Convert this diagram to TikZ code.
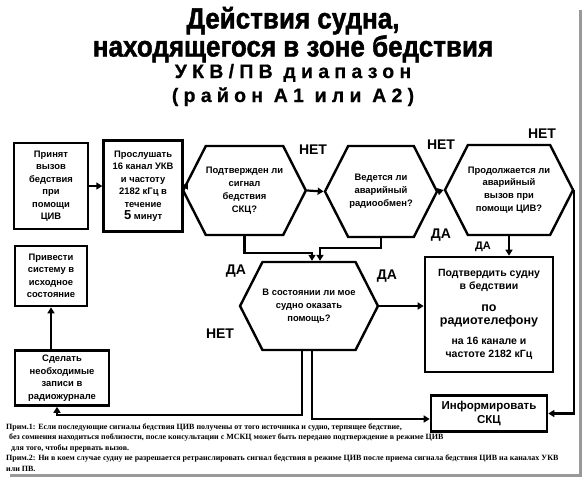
\documentclass[tikz,border=0pt]{standalone}
\usepackage{fontspec}
\setmainfont{Liberation Sans}
\newfontfamily\notefont{Liberation Serif}
\usetikzlibrary{shapes.symbols, arrows.meta, positioning, calc}

\begin{document}
\begin{tikzpicture}[
    x=1pt, y=-1pt,
    box/.style={rectangle, draw=black, line width=2.6pt, fill=white, inner sep=1pt, align=center, font=\bfseries\fontsize{9.4}{12.5}\selectfont},
    hexa/.style={signal, signal to=east and west, signal pointer angle=126, draw=black, line width=2.4pt, fill=white, inner sep=0pt, align=center, font=\bfseries\fontsize{9.4}{12.8}\selectfont},
    answer/.style={inner sep=0pt, font=\bfseries\fontsize{14}{14}\selectfont},
    heading/.style={anchor=base, inner sep=0pt, font=\bfseries\fontsize{26}{26}\selectfont\addfontfeature{FakeBold=1.6}},
    subheading/.style={anchor=base, inner sep=0pt, font=\bfseries\fontsize{19.5}{19.5}\selectfont\addfontfeature{LetterSpace=27,FakeBold=0.6}},
    arrow/.style={-{Triangle[length=6pt,width=7pt]}, line width=2.2pt, draw=black}
]
\useasboundingbox (0,0) rectangle (586,482);

% Frame shadow
\fill[black!40] (579,10) rectangle (582,477);
\fill[black!40] (10,474) rectangle (582,477);

% Title
\node[heading] (title) at (293,28.5) {\scalebox{1}[1.12]{Действия судна,}};
\node[heading] (subtitle) at (293,56.5) {\scalebox{1}[1.12]{находящегося в зоне бедствия}};
\node[subheading] (band) at (293,78) {УКВ/ПВ диапазон};
\node[subheading] (area) at (293,102) {(район A1 или A2)};

% Top row
\node[box, minimum width=74pt, minimum height=86pt] (alert) at (51,186) {Принят\\вызов\\бедствия\\при\\помощи\\ЦИВ};
\node[box, minimum width=79pt, minimum height=91pt, right=13pt of alert] (listen) {Прослушать\\16 канал УКВ\\и частоту\\2182 кГц в\\течение\\{\fontsize{13}{13}\selectfont 5} минут};
\node[hexa, minimum width=115pt, minimum height=89pt] (verifyq) at (244.5,190.5) {Подтвержден ли\\сигнал\\бедствия\\СКЦ?};
\node[hexa, minimum width=112pt, minimum height=91pt] (trafficq) at (381,191.5) {Ведется ли\\аварийный\\радиообмен?};
\node[hexa, minimum width=114pt, minimum height=90pt] (repeatq) at (509,190) {Продолжается ли\\аварийный\\вызов при\\помощи ЦИВ?};

% Middle and bottom
\node[hexa, minimum width=114pt, minimum height=88pt] (assistq) at (309,306) {В состоянии ли мое\\судно оказать\\помощь?};
\node[box, minimum width=128pt, minimum height=115pt, font=\bfseries\fontsize{10.5}{13.5}\selectfont] (ackbox) at (489,314.5) {Подтвердить судну\\в бедствии\\[8pt]{\fontsize{12.5}{15}\selectfont по}\\{\fontsize{12.5}{15}\selectfont радиотелефону}\\[6pt]на 16 канале и\\частоте 2182 кГц};
\node[box, minimum width=116pt, minimum height=36pt, font=\bfseries\fontsize{11.5}{14.5}\selectfont] (inform) at (489,413.5) {Информировать\\СКЦ};
\node[box, minimum width=72pt, minimum height=60pt] (reset) at (51,276) {Привести\\систему в\\исходное\\состояние};
\node[box, minimum width=94pt, minimum height=55pt] (logbook) at (62,378) {Сделать\\необходимые\\записи в\\радиожурнале};

% Answers
\node[answer] (no1) at (313,150) {НЕТ};
\node[answer] (no2) at (441,145) {НЕТ};
\node[answer] (no3) at (542,134) {НЕТ};
\node[answer] (yes1) at (441,235) {ДА};
\node[answer, font=\bfseries\fontsize{11}{11}\selectfont] (yes2) at (483,247) {ДА};
\node[answer] (yes3) at (236,271) {ДА};
\node[answer] (yes4) at (387,276) {ДА};
\node[answer] (no4) at (220,334) {НЕТ};

% Notes
\node[anchor=north west, inner sep=0pt, align=left, font=\notefont\bfseries\fontsize{8}{10.5}\selectfont] (notes) at (6,423.5) {Прим.1: Если последующие сигналы бедствия ЦИВ получены от того источника и судно, терпящее бедствие,\\
\hspace{3pt}без сомнения находиться поблизости, после консультации с МСКЦ может быть передано подтверждение в режиме ЦИВ\\
\hspace{5pt}для того, чтобы прервать вызов.\\
Прим.2: Ни в коем случае судну не разрешается ретранслировать сигнал бедствия в режиме ЦИВ после приема сигнала бедствия ЦИВ на каналах УКВ\\
или ПВ.};

% Connectors
\draw[arrow] (alert) -- (listen);
\draw[arrow] (listen.east) -- (listen.east -| verifyq.west);
\draw[arrow] (verifyq.east) -- (trafficq.west);
\draw[arrow] (trafficq.east) -- (repeatq.west);
\draw[arrow] (repeatq.south) -- (repeatq.south |- ackbox.north);
\draw[arrow] (repeatq.east) |- (inform.east);

\draw[arrow] (verifyq.south) -- ++(0,17) -| ([xshift=3pt]assistq.north);
\draw[arrow] (trafficq.south) -- ++(0,10) -| ([xshift=11pt]assistq.north);
\draw[arrow] (assistq.east) -- (assistq.east -| ackbox.west);

\draw[arrow] ([xshift=-7pt]assistq.south) -- ++(0,64) -| ([xshift=-5pt]logbook.south);
\draw[arrow] ([xshift=3pt]assistq.south) |- ([yshift=-5.5pt]inform.west);
\draw[arrow] (logbook.north -| reset.south) -- (reset.south);

\end{tikzpicture}
\end{document}
